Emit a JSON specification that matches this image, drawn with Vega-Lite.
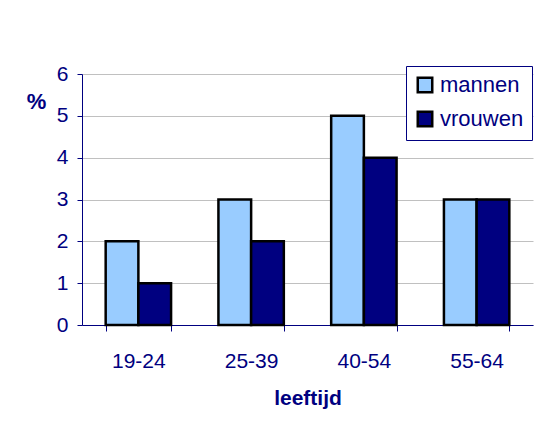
{
  "$schema": "https://vega.github.io/schema/vega-lite/v6.json",
  "width": 451,
  "height": 251,
  "padding": {"left": 82, "top": 74, "right": 23, "bottom": 114},
  "autosize": {"type": "none"},
  "background": "white",
  "config": {
    "font": "Liberation Sans",
    "view": {"stroke": null},
    "axis": {"labelColor": "#000080", "titleColor": "#000080", "domainColor": "#000080", "tickColor": "#000080", "labelFont": "Liberation Sans", "titleFont": "Liberation Sans"},
    "legend": {"labelFont": "Liberation Sans"}
  },
  "data": {
    "values": [
      {"leeftijd": "19-24", "geslacht": "mannen", "pct": 2},
      {"leeftijd": "19-24", "geslacht": "vrouwen", "pct": 1},
      {"leeftijd": "25-39", "geslacht": "mannen", "pct": 3},
      {"leeftijd": "25-39", "geslacht": "vrouwen", "pct": 2},
      {"leeftijd": "40-54", "geslacht": "mannen", "pct": 5},
      {"leeftijd": "40-54", "geslacht": "vrouwen", "pct": 4},
      {"leeftijd": "55-64", "geslacht": "mannen", "pct": 3},
      {"leeftijd": "55-64", "geslacht": "vrouwen", "pct": 3}
    ]
  },
  "mark": {"type": "bar", "stroke": "black", "strokeWidth": 2.5},
  "encoding": {
    "x": {
      "field": "leeftijd", "type": "nominal", "sort": null,
      "scale": {"paddingInner": 0.42, "paddingOuter": 0.21},
      "axis": {
        "title": "leeftijd", "labelAngle": 0, "labelFontSize": 21, "labelPadding": 19,
        "titleFontSize": 21, "titleFontWeight": "bold", "titlePadding": 16,
        "tickBand": "extent", "tickSize": 6, "grid": false, "domainWidth": 1
      }
    },
    "xOffset": {"field": "geslacht", "type": "nominal", "sort": ["mannen", "vrouwen"]},
    "y": {
      "field": "pct", "type": "quantitative",
      "scale": {"domain": [0, 6]},
      "axis": {
        "title": "%", "titleAngle": 0, "titleFontSize": 22, "titleFontWeight": "bold",
        "titleX": -46, "titleY": 27, "titleAlign": "center", "titleBaseline": "middle",
        "values": [0, 1, 2, 3, 4, 5, 6], "labelFontSize": 21, "labelPadding": 9,
        "tickSize": 5, "gridColor": "#c0c0c0", "gridWidth": 1, "domainWidth": 1
      }
    },
    "color": {
      "field": "geslacht", "type": "nominal", "sort": ["mannen", "vrouwen"],
      "scale": {"domain": ["mannen", "vrouwen"], "range": ["#99ccff", "#000080"]},
      "legend": {
        "title": null, "orient": "none", "legendX": 324, "legendY": -8,
        "strokeColor": "#000080", "padding": 8, "fillColor": "white",
        "symbolType": "square", "symbolSize": 210, "symbolStrokeColor": "black", "symbolStrokeWidth": 2.5,
        "symbolOpacity": 1,
        "labelFontSize": 22, "labelColor": "#000080", "labelOffset": 4, "rowPadding": 8
      }
    }
  }
}
